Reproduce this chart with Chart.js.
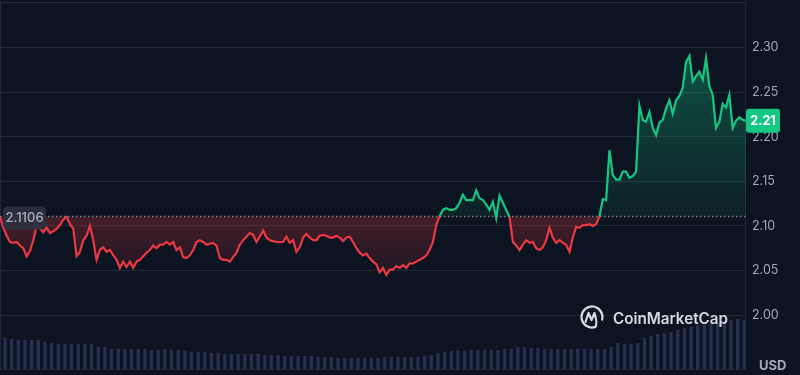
<!DOCTYPE html>
<html lang="en">
<head>
<meta charset="UTF-8">
<title>Price chart</title>
<script src="https://cdn.jsdelivr.net/npm/chart.js@4.4.1/dist/chart.umd.min.js"></script>
<style>
    html, body { margin: 0; padding: 0; background: #0d1421; }
    #wrap { width: 800px; height: 375px; position: relative; }
</style>
</head>
<body>
<div id="wrap"><canvas id="priceChart" width="800" height="375"></canvas></div>
<script>
// --- Data ---
const basePrice = 2.1106;
const priceTicks = [2.00, 2.05, 2.10, 2.15, 2.20, 2.25, 2.30];
const priceMin = 1.9395;
const priceMax = 2.3513;

const prices = [
    2.110, 2.098, 2.089, 2.082, 2.081, 2.082, 2.078, 2.075, 2.066, 2.072, 2.084, 2.100, 2.097, 2.093, 2.098,
    2.092, 2.094, 2.097, 2.101, 2.107, 2.110, 2.102, 2.097, 2.066, 2.071, 2.084, 2.089, 2.100, 2.084, 2.062,
    2.073, 2.076, 2.071, 2.073, 2.067, 2.062, 2.053, 2.060, 2.054, 2.060, 2.053, 2.060, 2.062, 2.066, 2.070,
    2.073, 2.078, 2.075, 2.079, 2.079, 2.082, 2.079, 2.082, 2.073, 2.076, 2.065, 2.064, 2.067, 2.073, 2.082,
    2.084, 2.082, 2.079, 2.080, 2.081, 2.078, 2.064, 2.062, 2.062, 2.060, 2.065, 2.070, 2.079, 2.084, 2.088,
    2.092, 2.090, 2.082, 2.088, 2.095, 2.087, 2.084, 2.083, 2.082, 2.082, 2.082, 2.088, 2.081, 2.084, 2.071,
    2.076, 2.087, 2.091, 2.087, 2.084, 2.084, 2.089, 2.090, 2.089, 2.087, 2.087, 2.089, 2.087, 2.083, 2.087,
    2.088, 2.082, 2.075, 2.070, 2.067, 2.069, 2.064, 2.060, 2.057, 2.048, 2.053, 2.045, 2.051, 2.051, 2.055,
    2.053, 2.056, 2.053, 2.058, 2.058, 2.060, 2.062, 2.064, 2.067, 2.073, 2.082, 2.101, 2.111, 2.118, 2.120,
    2.118, 2.118, 2.120, 2.126, 2.135, 2.129, 2.129, 2.129, 2.140, 2.131, 2.129, 2.124, 2.118, 2.127, 2.109,
    2.134, 2.126, 2.118, 2.110, 2.082, 2.078, 2.073, 2.079, 2.084, 2.081, 2.082, 2.075, 2.073, 2.076, 2.084,
    2.098, 2.087, 2.081, 2.084, 2.081, 2.079, 2.071, 2.087, 2.099, 2.098, 2.101, 2.101, 2.102, 2.100, 2.102,
    2.111, 2.130, 2.129, 2.185, 2.157, 2.152, 2.152, 2.161, 2.161, 2.154, 2.156, 2.161, 2.235, 2.219, 2.217,
    2.228, 2.210, 2.202, 2.216, 2.219, 2.232, 2.241, 2.226, 2.241, 2.246, 2.255, 2.284, 2.291, 2.262, 2.268,
    2.273, 2.264, 2.288, 2.257, 2.247, 2.210, 2.217, 2.237, 2.233, 2.247, 2.210, 2.218, 2.222, 2.219, 2.218
];

// volume, relative units
const volumes = [
    31, 30, 29, 29, 29, 29, 27, 26, 25, 25,
    25, 25, 25, 25, 22, 22, 20, 20, 20, 20,
    20, 20, 19, 19, 20, 19, 19, 18, 17, 17,
    17, 16, 16, 15, 15, 15, 15, 15, 15, 14,
    14, 14, 13, 13, 13, 13, 13, 12, 12, 12,
    11, 11, 11, 11, 11, 11, 11, 12, 12, 12,
    12, 12, 12, 13, 14, 16, 17, 18, 18, 18,
    19, 19, 19, 19, 19, 20, 20, 22, 22, 21,
    21, 20, 20, 20, 20, 20, 20, 20, 20, 20,
    20, 22, 26, 25, 25, 26, 31, 33, 35, 36,
    37, 39, 41, 42, 44, 45, 45, 46, 48, 49,
    50, 49
];
const volumeMax = 367;

const priceLabels = prices.map((_, i) => i);
const volumeLabels = volumes.map((_, i) => i);

// --- Colours ---
const GREEN = '#16c784';
const RED = '#ea3943';
const GRID = '#222837';
const TEXT = '#a1a7bb';
const FONT = 'Inter, "Noto Sans", sans-serif';

// --- Fill gradients ---
function greenFill(ctx) {
    const { chart } = ctx;
    if (!chart.chartArea) return 'transparent';
    const y = chart.scales.y;
    const g = chart.ctx.createLinearGradient(0, y.getPixelForValue(2.30), 0, y.getPixelForValue(basePrice));
    g.addColorStop(0, 'rgba(22,199,132,0.36)');
    g.addColorStop(1, 'rgba(22,199,132,0.07)');
    return g;
}

function redFill(ctx) {
    const { chart } = ctx;
    if (!chart.chartArea) return 'transparent';
    const y = chart.scales.y;
    const g = chart.ctx.createLinearGradient(0, y.getPixelForValue(basePrice), 0, y.getPixelForValue(2.045));
    g.addColorStop(0, 'rgba(234,57,67,0.26)');
    g.addColorStop(1, 'rgba(234,57,67,0.08)');
    return g;
}

// --- Overlay plugin: frame, baseline, labels, watermark ---
const overlay = {
    id: 'overlay',
    beforeDatasetsDraw(chart) {
        const { ctx, chartArea: a } = chart;
        ctx.save();
        ctx.strokeStyle = GRID;
        ctx.lineWidth = 1;
        ctx.strokeRect(a.left + 0.5, a.top + 0.5, a.right - a.left - 1, a.bottom - a.top);
        ctx.restore();
    },
    afterDatasetsDraw(chart) {
        const { ctx, chartArea: a, scales } = chart;
        const yb = scales.y.getPixelForValue(basePrice);
        ctx.save();
        ctx.strokeStyle = 'rgba(161,167,187,0.7)';
        ctx.lineWidth = 1.5;
        ctx.setLineDash([1.5, 2.5]);
        ctx.beginPath();
        ctx.moveTo(a.left, yb);
        ctx.lineTo(a.right, yb);
        ctx.stroke();
        ctx.restore();
    },
    afterDraw(chart) {
        const { ctx, chartArea: a, scales } = chart;
        const yb = scales.y.getPixelForValue(basePrice);

        // base price tag
        ctx.save();
        ctx.fillStyle = 'rgba(44,49,63,0.92)';
        ctx.beginPath();
        ctx.roundRect(a.left + 3, yb - 10, 43, 23, 5);
        ctx.fill();
        ctx.fillStyle = '#a8aec0';
        ctx.font = '500 13px ' + FONT;
        ctx.textAlign = 'center';
        ctx.textBaseline = 'middle';
        ctx.fillText(basePrice.toFixed(4), a.left + 24.5, yb + 1.5);

        // current price badge
        const last = prices[prices.length - 1];
        const yl = scales.y.getPixelForValue(last);
        ctx.fillStyle = GREEN;
        ctx.beginPath();
        ctx.roundRect(a.right, yl - 12, 34, 24, 3);
        ctx.fill();
        ctx.fillStyle = '#ffffff';
        ctx.font = '700 12.5px ' + FONT;
        ctx.fillText((Math.floor(last * 100) / 100).toFixed(2), a.right + 17, yl + 0.5);

        // currency
        ctx.fillStyle = TEXT;
        ctx.font = '700 13px ' + FONT;
        ctx.textAlign = 'left';
        ctx.fillText('USD', a.right + 13, 366);

        // watermark
        const cx = 592, cy = 317;
        ctx.strokeStyle = 'rgba(235,237,242,0.9)';
        ctx.lineWidth = 2.2;
        ctx.lineCap = 'round';
        ctx.lineJoin = 'round';
        ctx.beginPath();
        ctx.arc(cx, cy, 10.5, 0.42 * Math.PI, 2.08 * Math.PI);
        ctx.stroke();
        ctx.beginPath();
        ctx.moveTo(cx - 6.5, cy + 5);
        ctx.lineTo(cx - 3.5, cy - 4);
        ctx.lineTo(cx - 0.5, cy + 3);
        ctx.lineTo(cx + 2.5, cy - 4);
        ctx.quadraticCurveTo(cx + 6, cy + 7, cx + 3, cy + 10.2);
        ctx.stroke();
        ctx.fillStyle = 'rgba(235,237,242,0.9)';
        let size = 18;
        ctx.font = '600 ' + size + 'px ' + FONT;
        size = size * 115 / ctx.measureText('CoinMarketCap').width;
        ctx.font = '600 ' + size.toFixed(2) + 'px ' + FONT;
        ctx.textBaseline = 'alphabetic';
        ctx.fillText('CoinMarketCap', 613, 324);
        ctx.restore();
    }
};

// --- Chart ---
const chart = new Chart(document.getElementById('priceChart'), {
    type: 'line',
    data: {
        labels: priceLabels,
        datasets: [
            {
                data: prices,
                borderWidth: 2.2,
                pointRadius: 0,
                tension: 0,
                fill: false,
                borderColor: GREEN,
                segment: {
                    borderColor: c => ((c.p0.parsed.y + c.p1.parsed.y) / 2 >= basePrice ? GREEN : RED)
                },
                xAxisID: 'x', yAxisID: 'y'
            },
            {
                data: prices,
                borderWidth: 0,
                pointRadius: 0,
                backgroundColor: greenFill,
                fill: { target: { value: basePrice }, below: 'transparent' },
                xAxisID: 'x', yAxisID: 'y'
            },
            {
                data: prices,
                borderWidth: 0,
                pointRadius: 0,
                backgroundColor: redFill,
                fill: { target: { value: basePrice }, above: 'transparent' },
                xAxisID: 'x', yAxisID: 'y'
            },
            {
                type: 'bar',
                data: volumes,
                backgroundColor: '#283052',
                barPercentage: 0.97,
                categoryPercentage: 1,
                xAxisID: 'xv', yAxisID: 'yv'
            }
        ]
    },
    options: {
        responsive: false,
        animation: false,
        layout: { padding: { top: 2, bottom: 6, left: 0, right: 0 } },
        plugins: { legend: { display: false }, tooltip: { enabled: false } },
        scales: {
            x: { type: 'category', display: false },
            xv: { type: 'category', labels: volumeLabels, display: false, offset: true },
            yv: { display: false, min: 0, max: volumeMax },
            y: {
                position: 'right',
                min: priceMin,
                max: priceMax,
                afterFit: s => {
                    s.width = 54;
                    s.paddingTop = 0;
                    s.paddingBottom = 0;
                },
                afterBuildTicks: s => { s.ticks = priceTicks.map(v => ({ value: v })); },
                grid: { color: GRID, drawTicks: false },
                border: { display: false },
                ticks: {
                    color: TEXT,
                    padding: 6,
                    font: { family: FONT, size: 12.5 },
                    callback: v => Number(v).toFixed(2)
                }
            }
        }
    },
    plugins: [overlay]
});
</script>
</body>
</html>
